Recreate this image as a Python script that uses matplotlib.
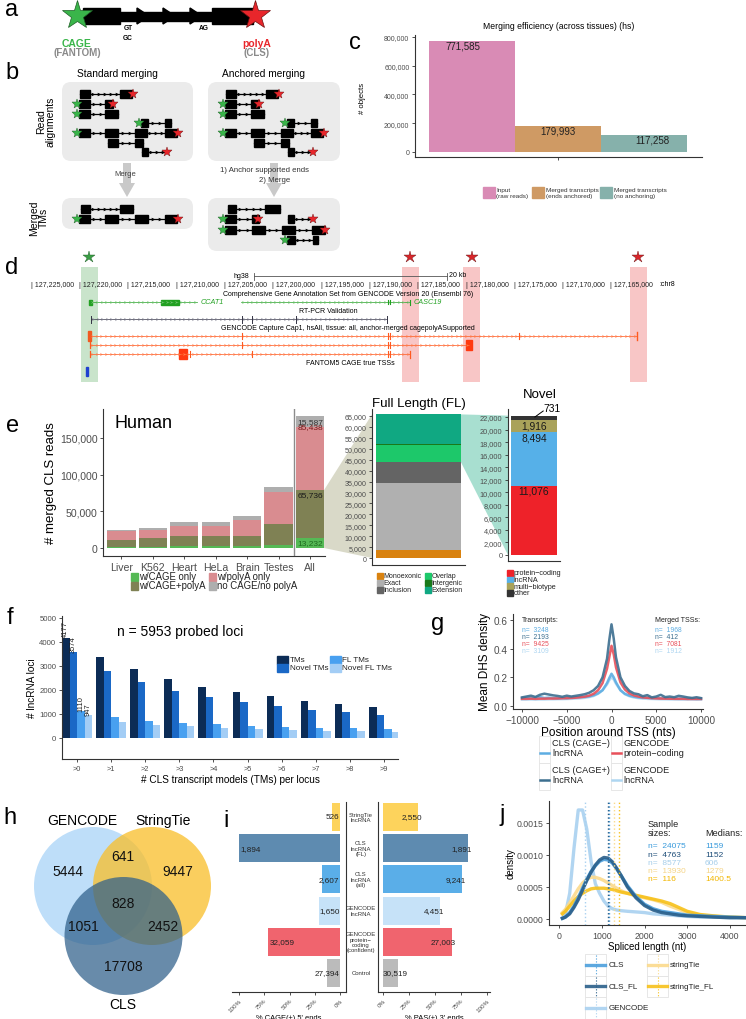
import numpy as np
import matplotlib
matplotlib.use('Agg')
import matplotlib.pyplot as plt
from matplotlib.patches import Rectangle, FancyBboxPatch, Circle, Polygon, FancyArrow
from matplotlib.ticker import FuncFormatter

plt.rcParams['font.family'] = ['Liberation Sans', 'DejaVu Sans']

# ===================== DATA =====================
# panel c
c_labels = ['Input\n(raw reads)', 'Merged transcripts\n(ends anchored)', 'Merged transcripts\n(no anchoring)']
c_values = [771585, 179993, 117258]
c_colors = ['#D98BB5', '#CF9A64', '#86B1AB']

# panel e (Human)
e_tissues = ['Liver', 'K562', 'Heart', 'HeLa', 'Brain', 'Testes', 'All']
e_series = ['w/CAGE only', 'w/CAGE+polyA', 'w/polyA only', 'no CAGE/no polyA']
e_cage_only = [1000, 1000, 2500, 2300, 3100, 4500, 13232]
e_cage_polya = [9900, 12600, 14300, 14500, 13700, 28200, 65736]
e_polya_only = [12700, 11400, 13600, 13600, 21300, 43200, 85438]
e_none = [900, 2200, 5500, 5500, 5100, 7600, 15587]
e_colors = ['#55B955', '#7F8154', '#D98C90', '#AEAEAE']

# panel e (Full length)
fl_cats = ['Monoexonic', 'Exact', 'Inclusion', 'Overlap', 'Intergenic', 'Extension']
fl_vals = [3600, 30700, 9500, 7900, 300, 13736]
fl_colors = ['#D9820F', '#B0B0B0', '#646464', '#1DC86A', '#1A7A1A', '#10A882']

# panel e (Novel)
nov_cats = ['protein\u2212coding', 'lncRNA', 'multi\u2212biotype', 'other']
nov_vals = [11076, 8494, 1916, 731]
nov_colors = ['#EE2229', '#56B0E8', '#A9A25A', '#333333']

# panel f
f_groups = ['>0', '>1', '>2', '>3', '>4', '>5', '>6', '>7', '>8', '>9']
f_series = ['TMs', 'Novel TMs', 'FL TMs', 'Novel FL TMs']
f_tms = [4177, 3390, 2860, 2460, 2110, 1900, 1735, 1555, 1415, 1290]
f_novel = [3574, 2790, 2320, 1960, 1695, 1485, 1320, 1180, 1070, 970]
f_fl = [1110, 875, 710, 625, 570, 515, 460, 420, 400, 375]
f_novel_fl = [947, 680, 555, 490, 420, 375, 335, 295, 280, 240]
f_colors = ['#0C2C56', '#1A68C6', '#48A0F0', '#A3CDF5']

# panel g
g_pos = [-10000, -9500, -9000, -8500, -8000, -7500, -7000, -6500, -6000, -5500, -5000,
         -4500, -4000, -3500, -3000, -2500, -2000, -1500, -1000, -500, -250, 0, 250, 500,
         1000, 1500, 2000, 2500, 3000, 3500, 4000, 4500, 5000, 5500, 6000, 6500, 7000,
         7500, 8000, 8500, 9000, 9500, 10000]
g_cage_minus = [0.055, 0.058, 0.054, 0.060, 0.062, 0.056, 0.058, 0.055, 0.052, 0.056, 0.054,
                0.058, 0.060, 0.062, 0.063, 0.067, 0.075, 0.088, 0.110, 0.160, 0.195, 0.225,
                0.200, 0.165, 0.110, 0.085, 0.072, 0.065, 0.060, 0.057, 0.058, 0.054, 0.056,
                0.053, 0.055, 0.052, 0.054, 0.051, 0.053, 0.050, 0.052, 0.050, 0.051]
g_cage_plus = [0.060, 0.066, 0.072, 0.063, 0.078, 0.086, 0.080, 0.074, 0.070, 0.064, 0.072,
               0.066, 0.071, 0.076, 0.082, 0.092, 0.110, 0.140, 0.200, 0.330, 0.460, 0.570,
               0.470, 0.340, 0.200, 0.140, 0.105, 0.088, 0.082, 0.068, 0.076, 0.060, 0.066,
               0.078, 0.062, 0.066, 0.061, 0.071, 0.066, 0.060, 0.056, 0.061, 0.055]
g_pc = [0.050, 0.050, 0.051, 0.050, 0.051, 0.051, 0.052, 0.052, 0.053, 0.054, 0.055,
        0.056, 0.058, 0.061, 0.065, 0.072, 0.085, 0.110, 0.160, 0.260, 0.340, 0.420,
        0.360, 0.270, 0.165, 0.115, 0.088, 0.074, 0.066, 0.060, 0.057, 0.055, 0.053,
        0.052, 0.051, 0.051, 0.050, 0.050, 0.050, 0.049, 0.049, 0.049, 0.049]
g_gen_lnc = [0.045, 0.045, 0.046, 0.045, 0.046, 0.046, 0.047, 0.047, 0.048, 0.048, 0.049,
             0.050, 0.052, 0.054, 0.057, 0.062, 0.070, 0.085, 0.110, 0.150, 0.180, 0.200,
             0.185, 0.155, 0.110, 0.082, 0.068, 0.060, 0.055, 0.052, 0.050, 0.049, 0.048,
             0.047, 0.047, 0.046, 0.046, 0.045, 0.045, 0.045, 0.045, 0.044, 0.044]
g_names = ['CLS (CAGE\u2212)\nlncRNA', 'CLS (CAGE+)\nlncRNA', 'GENCODE\nprotein\u2212coding', 'GENCODE\nlncRNA']
g_colors = ['#5DADE2', '#3C6E8F', '#E8505A', '#AED6F1']
g_n_tx = ['3248', '2193', '9425', '3109']
g_n_tss = ['1968', '412', '7081', '1912']

# panel h
h_sets = ['GENCODE', 'StringTie', 'CLS']
h_counts = {'G': 5444, 'S': 9447, 'C': 17708, 'GS': 641, 'GC': 1051, 'SC': 2452, 'GSC': 828}

# panel i
i_cats = ['StringTie\nlncRNA', 'CLS\nlncRNA\n(FL)', 'CLS\nlncRNA\n(all)', 'GENCODE\nlncRNA',
          'GENCODE\nprotein\u2212\ncoding\n(confident)', 'Control']
i_cage = [0.079, 1.0, 0.178, 0.207, 0.71, 0.128]
i_pas = [0.337, 0.817, 0.76, 0.55, 0.663, 0.144]
i_cage_n = ['526', '1,894', '2,607', '1,650', '32,059', '27,394']
i_pas_n = ['2,550', '1,891', '9,241', '4,451', '27,003', '30,519']
i_colors = ['#FDD35C', '#5E8BB0', '#5AAEE8', '#C6E2F8', '#F0646E', '#BBBBBB']

# panel j
j_x = [80, 150, 250, 350, 450, 550, 650, 750, 850, 950, 1050, 1150, 1250, 1350, 1450,
       1600, 1800, 2000, 2200, 2400, 2600, 2800, 3000, 3300, 3600, 4000, 4400]
j_cls = [0.00001, 0.00003, 0.0001, 0.0002, 0.00033, 0.00048, 0.00062, 0.00074, 0.00083,
         0.0009, 0.00093, 0.00092, 0.00087, 0.00078, 0.00068, 0.00052, 0.00035, 0.00023,
         0.00016, 0.00012, 0.0001, 0.00008, 0.00006, 0.00005, 0.00004, 0.00003, 0.00002]
j_cls_fl = [0.00001, 0.00003, 0.00008, 0.00018, 0.0003, 0.00045, 0.0006, 0.00073, 0.00084,
            0.00092, 0.00096, 0.00095, 0.00089, 0.00079, 0.00068, 0.0005, 0.00033, 0.00021,
            0.00014, 0.0001, 0.00008, 0.00006, 0.00005, 0.00004, 0.00003, 0.00002, 0.00002]
j_gencode = [0.00002, 0.00008, 0.0004, 0.0011, 0.0017, 0.0017, 0.0014, 0.0009, 0.00055,
             0.0004, 0.00028, 0.0002, 0.00016, 0.00014, 0.00013, 0.00012, 0.00011, 0.0001,
             0.00008, 0.00007, 0.00006, 0.00005, 0.00004, 0.00003, 0.00003, 0.00002, 0.00002]
j_st = [0.0001, 0.00015, 0.00025, 0.00036, 0.00047, 0.00056, 0.00062, 0.00065, 0.00065,
        0.00063, 0.0006, 0.00056, 0.00052, 0.00048, 0.00044, 0.0004, 0.00036, 0.00033,
        0.0003, 0.00026, 0.0002, 0.00015, 0.0001, 0.00006, 0.00004, 0.00003, 0.00002]
j_st_fl = [0.00008, 0.00012, 0.0002, 0.00028, 0.00035, 0.0004, 0.00044, 0.00047, 0.00048,
           0.00048, 0.00048, 0.00047, 0.00046, 0.00044, 0.00042, 0.0004, 0.00037, 0.00034,
           0.00031, 0.00028, 0.00024, 0.00018, 0.00012, 0.00007, 0.00005, 0.00003, 0.00002]
j_names = ['CLS', 'CLS_FL', 'GENCODE', 'stringTie', 'stringTie_FL']
j_colors = ['#4B9FDC', '#2A5F8A', '#A9D1F0', '#FBDA8C', '#F7C11A']
j_text_colors = ['#3A9BDC', '#1F4E79', '#A6CEEA', '#F5D58A', '#F2B600']
j_n = ['24075', '4763', '8577', '13930', '116']
j_medians = [1159, 1152, 606, 1279, 1400.5]

# panel d genomic ticks
d_ticks = [127225000, 127220000, 127215000, 127210000, 127205000, 127200000, 127195000,
           127190000, 127185000, 127180000, 127175000, 127170000, 127165000]

# ===================== FIGURE =====================
W, H = 746, 1020
fig = plt.figure(figsize=(W / 100, H / 100), dpi=100)
ov = fig.add_axes([0, 0, 1, 1], zorder=0)
ov.set_xlim(0, W); ov.set_ylim(H, 0); ov.axis('off')

GREEN = '#3AB54A'; RED = '#E8262B'
AX = '#333333'; TK = '#4D4D4D'


def pax(x0, y0, x1, y1):
    ax = fig.add_axes([x0 / W, 1 - y1 / H, (x1 - x0) / W, (y1 - y0) / H], zorder=2)
    ax.patch.set_alpha(0)
    return ax


def gg(ax, spines=('left', 'bottom'), fs=6):
    for s in ax.spines:
        ax.spines[s].set_visible(s in spines)
    for s in spines:
        ax.spines[s].set_color(AX); ax.spines[s].set_linewidth(0.8)
    ax.tick_params(colors=AX, labelcolor=TK, length=2.5, width=0.6, pad=1.5, labelsize=fs)


def to_ov(ax, x, y):
    d = ax.transData.transform((x, y))
    return ov.transData.inverted().transform(d)


comma = FuncFormatter(lambda v, p: f'{int(round(v)):,}')

# panel letters
for t, x, y in [('a', 12, 10), ('b', 12, 73), ('c', 355, 43), ('d', 12, 268), ('e', 13, 426),
                ('f', 10, 618), ('g', 438, 624), ('h', 10, 818), ('i', 226, 821), ('j', 502, 815)]:
    ov.text(x, y, t, fontsize=17, ha='center', va='center')

# ---------------- panel a ----------------
ov.add_patch(Rectangle((83, 9), 37, 16, color='k', zorder=2))
ov.add_patch(Rectangle((120, 13.3), 92, 8.4, color='k', zorder=2))
for xa in [137, 163, 190]:
    ov.add_patch(Polygon([[xa, 9], [xa + 12, 17], [xa, 25]], closed=True, color='k', zorder=2))
ov.add_patch(Rectangle((212, 9), 41, 16, color='k', zorder=2))
ov.plot(77, 16, marker='*', ms=22, color=GREEN, mec='#1d5e25', mew=0.5, zorder=3)
ov.plot(255, 16, marker='*', ms=22, color=RED, mec='#6b1010', mew=0.5, zorder=3)
ov.text(128, 29, 'GT', fontsize=4.8, fontweight='bold', ha='center', va='center')
ov.text(128, 39, 'GC', fontsize=4.8, fontweight='bold', ha='center', va='center')
ov.text(204, 29, 'AG', fontsize=4.8, fontweight='bold', ha='center', va='center')
ov.text(77, 44, 'CAGE', fontsize=7.5, fontweight='bold', color=GREEN, ha='center', va='center')
ov.text(77, 53, '(FANTOM)', fontsize=7, fontweight='bold', color='#8A8A8A', ha='center', va='center')
ov.text(257, 44, 'polyA', fontsize=7.5, fontweight='bold', color=RED, ha='center', va='center')
ov.text(257, 53, '(CLS)', fontsize=7, fontweight='bold', color='#8A8A8A', ha='center', va='center')

# ---------------- panel b ----------------
for (x0, y0, x1, y1) in [(62, 83, 193, 162), (208, 83, 340, 162), (62, 199, 193, 230), (208, 199, 340, 252)]:
    ov.add_patch(FancyBboxPatch((x0, y0), x1 - x0, y1 - y0, boxstyle='round,pad=0,rounding_size=9',
                                fc='#EBEBEB', ec='none', zorder=1))


def tm(y, exons, cage=None, pa=None, x_end=None, dx=0):
    starts = [a + dx for a, b in exons]
    ends = [b + dx for a, b in exons]
    last = max(ends + ([x_end + dx] if x_end else []))
    ov.plot([min(starts), last], [y, y], color='k', lw=0.9, zorder=3)
    for a, b in zip(starts, ends):
        ov.add_patch(Rectangle((a, y - 3.6), b - a, 7.2, color='k', zorder=4))
    gaps = list(zip(ends[:-1], starts[1:]))
    if x_end:
        gaps.append((ends[-1], x_end + dx))
    for g0, g1 in gaps:
        n = max(1, int((g1 - g0) / 6))
        for k in range(n):
            xm = g0 + (g1 - g0) * (k + 0.6) / (n + 0.2)
            ov.plot(xm, y, marker='>', ms=2.6, color='k', mew=0, zorder=4)
    if cage is not None:
        ov.plot(cage + dx, y, marker='*', ms=7, color=GREEN, mec='#1d5e25', mew=0.3, zorder=5)
    if pa is not None:
        ov.plot(pa + dx, y, marker='*', ms=7, color=RED, mec='#6b1010', mew=0.3, zorder=5)


reads = [(95, [(80, 90), (120, 132)], None, 133, None),
         (105, [(79, 90), (105, 113)], 77, 113, None),
         (115, [(79, 90), (105, 118)], 77, None, None),
         (124, [(141, 148), (165, 171)], 139, None, None),
         (134, [(79, 90), (105, 118), (135, 147), (165, 177)], 77, 178, None),
         (144, [(108, 118), (135, 143)], None, None, None),
         (153, [(142, 148)], None, 167, 166)]
for r in reads:
    tm(*r)
    tm(*r, dx=146)
tm(210, [(81, 90), (120, 133)])
tm(220, [(79, 90), (105, 118), (135, 148), (165, 177)], 77, 178)
tm(210, [(228, 236), (265, 280)])
tm(220, [(225, 236), (252, 259)], 223, 258)
tm(220, [(288, 294)], None, 313, 312)
tm(231, [(225, 236), (252, 265), (282, 295), (312, 325)], 223, 325)
tm(241, [(287, 295), (313, 318)], 285, None)

ov.text(117, 74, 'Standard merging', fontsize=7.3, ha='center', va='center')
ov.text(264, 74, 'Anchored merging', fontsize=7.3, ha='center', va='center')
ov.text(46, 122, 'Read\nalignments', fontsize=7.5, rotation=90, ha='center', va='center', linespacing=1.0)
ov.text(39, 218, 'Merged\nTMs', fontsize=7.5, rotation=90, ha='center', va='center', linespacing=1.0)
for xa in [127, 274]:
    ov.add_patch(FancyArrow(xa, 164, 0, 34, width=8, head_width=16, head_length=14,
                            length_includes_head=True, fc='#C9C9C9', ec='none', zorder=1))
ov.text(125, 175, 'Merge', fontsize=5.5, color='#444444', ha='center', va='center', zorder=3)
ov.text(265, 171, '1) Anchor supported ends', fontsize=5.6, color='#333333', ha='center', va='center', zorder=3)
ov.text(275, 180.5, '2) Merge', fontsize=5.6, color='#333333', ha='center', va='center', zorder=3)

# ---------------- panel c ----------------
axc = pax(415, 36, 702, 158)
xc = np.arange(len(c_values))
axc.bar(xc, c_values, width=1.0, color=c_colors)
axc.set_xlim(-0.663, 2.674); axc.set_ylim(-34783, 813913)
gg(axc, fs=5)
axc.set_yticks([0, 200000, 400000, 600000, 800000])
axc.yaxis.set_major_formatter(comma)
axc.set_xticks([1]); axc.set_xticklabels([''])
for k, v in enumerate(c_values):
    axc.text(k + (-0.1 + 0.1 * k), v - 30000, f'{v:,}', fontsize=7, ha='center', va='center', color='#222222')
axc.set_title('Merging efficiency (across tissues) (hs)', fontsize=6.2, pad=5)
ov.text(362, 98, '# objects', rotation=90, fontsize=5.6, ha='center', va='center')
for k, (px, lab) in enumerate(zip([483, 532, 600], c_labels)):
    ov.add_patch(Rectangle((px, 188), 12, 11, color=c_colors[k]))
    ov.text(px + 13.5, 193.5, lab, fontsize=4.6, ha='left', va='center', color='#333333', linespacing=1.05)

# ---------------- panel d ----------------
axd = fig.add_axes([20 / W, 1 - 385 / H, 680 / W, 135 / H], zorder=2)
axd.patch.set_alpha(0); axd.axis('off')
axd.set_xlim(127226242, 127155847); axd.set_ylim(385, 250)
axd.add_patch(Rectangle((127218170, 268), 1760, 115, color='#C9E4CB', lw=0, zorder=0))
for c in [127185818, 127179451, 127162215]:
    axd.add_patch(Rectangle((c - 880, 268), 1760, 115, color='#F8C6C6', lw=0, zorder=0))
axd.plot(127219050, 258, marker='*', ms=9, color='#3A9E45', mec='#1d5e25', mew=0.3, clip_on=False)
for c in [127185818, 127179451, 127162215]:
    axd.plot(c, 258, marker='*', ms=9, color='#D9262B', mec='#6b1010', mew=0.3, clip_on=False)
axd.plot([127202019, 127182019], [277, 277], color='#555555', lw=0.6)
for xx in [127202019, 127182019]:
    axd.plot([xx, xx], [273.5, 280.5], color='#555555', lw=0.6)
axd.text(127202019 + 500, 277, 'hg38', fontsize=5, ha='right', va='center')
axd.text(127182019 - 150, 276, '20 kb', fontsize=5, ha='left', va='center')
for p in d_ticks:
    axd.text(p + 120, 286, '| ' + f'{p:,}', fontsize=5, ha='left', va='center', color='#222222')
axd.text(127160093, 285, ':chr8', fontsize=5, ha='left', va='center')


def chev(y, a, b, color, lc, lw=0.5):
    axd.plot([a, b], [y, y], color=lc, lw=lw, zorder=2)
    n = int(abs(a - b) / 470)
    xs = [a - (a - b) * (k + 0.5) / n for k in range(n)]
    axd.plot(xs, [y] * n, ls='none', marker='4', ms=2.6, mew=0.45, color=color, zorder=2)


def vt(x, y, h, color, lw=0.8):
    axd.plot([x, x], [y - h, y + h], color=color, lw=lw, zorder=3)


axd.text(127192288, 295, 'Comprehensive Gene Annotation Set from GENCODE Version 20 (Ensembl 76)',
         fontsize=5, ha='center', va='center')
GC = '#22A022'
chev(303, 127218996, 127207919, '#6CC06C', GC)
axd.add_patch(Rectangle((127218800, 300.5), 250, 5, color=GC))
axd.add_patch(Rectangle((127209783, 300.5), 1864, 5, color=GC))
axd.text(127207500, 303, 'CCAT1', fontsize=5.2, style='italic', color=GC, ha='left', va='center')
chev(303, 127203364, 127185870, '#6CC06C', GC)
vt(127188147, 303, 2, GC); vt(127187940, 303, 2, GC); vt(127185870, 303, 2.5, GC)
axd.text(127185500, 303, 'CASC19', fontsize=5.2, style='italic', color=GC, ha='left', va='center')

axd.text(127194358, 312, 'RT-PCR Validation', fontsize=5, ha='center', va='center')
RC = '#333344'
chev(320, 127218892, 127188250, '#777788', RC)
for xx in [127218892, 127203261, 127202226, 127197671, 127188250]:
    vt(xx, 320, 3.5, RC, 0.7)

axd.text(127192288, 329, 'GENCODE Capture Cap1, hsAll, tissue: all, anchor-merged cagepolyASupported',
         fontsize=5, ha='center', va='center')
OC = '#FF5A1F'
chev(337, 127218996, 127162370, '#FF7A4A', OC)
axd.add_patch(Rectangle((127218900, 332), 300, 10, color='#F05A20'))
for xx in [127203261, 127188147, 127187940, 127174586]:
    vt(xx, 337, 3, OC, 0.8)
vt(127162370, 337, 4, OC, 1.0)
chev(346, 127218996, 127179762, '#FF7A4A', OC)
vt(127218996, 346, 3, OC, 0.9)
for xx in [127203261, 127188147, 127187940]:
    vt(xx, 346, 3, OC, 0.8)
axd.add_patch(Rectangle((127179452, 341), 621, 10, color='#FF3A10'))
chev(355, 127218996, 127185870, '#FF7A4A', OC)
vt(127218996, 355, 3, OC, 0.9)
axd.add_patch(Rectangle((127208955, 350), 828, 10, color='#FF3A10'))
for xx in [127208644, 127202226, 127188147, 127187940]:
    vt(xx, 355, 3, OC, 0.8)
vt(127185870, 355, 3.5, OC, 0.9)
axd.text(127192081, 364, 'FANTOM5 CAGE true TSSs', fontsize=5, ha='center', va='center')
axd.add_patch(Rectangle((127219200, 368), 260, 9, color='#2040D0'))

# ---------------- panel e : Human ----------------
axe = pax(103, 410, 325, 557)
xe = np.arange(len(e_tissues))
stack = [e_cage_only, e_cage_polya, e_polya_only, e_none]
bottom = np.zeros(len(e_tissues))
tops = []
for vals, col in zip(stack, e_colors):
    axe.bar(xe, vals, width=0.9, bottom=bottom, color=col)
    bottom = bottom + np.array(vals)
    tops.append(bottom.copy())
axe.set_xlim(-0.589, 6.48); axe.set_ylim(-10899, 189373)
gg(axe, fs=7.6)
axe.set_xticks(xe); axe.set_xticklabels(e_tissues)
axe.set_yticks([0, 50000, 100000, 150000]); axe.yaxis.set_major_formatter(comma)
axe.axvline(5.5, color='#8C8C8C', lw=1.0)
axe.set_ylabel('# merged CLS reads', fontsize=9.5, labelpad=2)
axe.text(0.05, 0.91, 'Human', transform=axe.transAxes, fontsize=13, ha='left', va='center')
lab_cols = ['#1E6B1E', '#1A1A1A', '#7A1A1A', '#333333']
offs = [6000, 6000, -800, 7200]
for k in range(4):
    v = stack[k][-1]
    axe.text(6.02, tops[k][-1] - offs[k], f'{v:,}', fontsize=6.0, ha='center', va='center', color=lab_cols[k])
for k, (px, py) in enumerate([(131, 577.5), (131, 586.5), (209, 577.5), (209, 586.5)]):
    ov.add_patch(Rectangle((px, py - 4), 7, 8, color=e_colors[k]))
    ov.text(px + 8, py, e_series[k], fontsize=6.9, ha='left', va='center', color='#222222')

# ---------------- panel e : Full length ----------------
axf = pax(372, 410, 465, 566)
bot = 0
fl_tops = []
for v, col in zip(fl_vals, fl_colors):
    axf.bar([0], [v], width=1.0, bottom=bot, color=col)
    bot += v
    fl_tops.append(bot)
axf.set_xlim(-0.547, 0.547); axf.set_ylim(-3204, 68204)
gg(axf, fs=5.1)
axf.set_xticks([])
axf.set_yticks(list(range(0, 65001, 5000))); axf.yaxis.set_major_formatter(comma)
axf.set_title('Full Length (FL)', fontsize=9.5, pad=1)
for k, lab in enumerate(fl_cats):
    px = 377 if k < 3 else 425
    py = [577, 584, 591][k % 3]
    ov.add_patch(Rectangle((px, py - 3.2), 6, 6.4, color=fl_colors[k]))
    ov.text(px + 6.5, py, lab, fontsize=5, ha='left', va='center', color='#222222')

# ---------------- panel e : Novel ----------------
axn = pax(508, 410, 560, 562)
bot = 0
nov_tops = []
for v, col in zip(nov_vals, nov_colors):
    axn.bar([0], [v], width=1.0, bottom=bot, color=col)
    bot += v
    nov_tops.append(bot)
axn.set_xlim(-0.565, 0.565); axn.set_ylim(-957, 23275)
gg(axn, fs=5.3)
axn.set_xticks([])
axn.set_yticks(list(range(0, 22001, 2000))); axn.yaxis.set_major_formatter(comma)
axn.set_title('Novel', fontsize=9.5, pad=9, x=0.62)
for k in range(3):
    axn.text(0, nov_tops[k] - 800, f'{nov_vals[k]:,}', fontsize=7.4, ha='center', va='center', color='#1A1A1A')
axn.plot([0.02, 0.2], [22000, 22957], color='k', lw=0.7, clip_on=False)
axn.text(0.39, 23435, f'{nov_vals[3]:,}', fontsize=7.4, ha='center', va='center', clip_on=False)
for k, lab in enumerate(nov_cats):
    py = [574, 581, 587.5, 594][k]
    ov.add_patch(Rectangle((507, py - 3.2), 6, 6.4, color=nov_colors[k]))
    ov.text(513.5, py, lab, fontsize=5.2, ha='left', va='center', color='#222222')

# zoom polygons
p1 = to_ov(axe, 6.45, tops[1][-1]); p2 = to_ov(axe, 6.45, 0)
p3 = to_ov(axf, -0.547, sum(fl_vals)); p4 = to_ov(axf, -0.547, 0)
ov.add_patch(Polygon([p1, p3, p4, p2], closed=True, fc='#D9D9C8', ec='none', zorder=0))
q1 = to_ov(axf, 0.5, fl_tops[-1]); q2 = to_ov(axf, 0.5, fl_tops[2])
q3 = to_ov(axn, -0.565, sum(nov_vals)); q4 = to_ov(axn, -0.565, 0)
ov.add_patch(Polygon([q1, q3, q4, q2], closed=True, fc='#A8DFD0', ec='none', zorder=0))

# ---------------- panel f ----------------
axF = pax(62, 617, 398, 760)
xf = np.arange(len(f_groups))
bw = 0.22
for k, (vals, col) in enumerate(zip([f_tms, f_novel, f_fl, f_novel_fl], f_colors)):
    axF.bar(xf + (k - 1.5) * bw, vals, width=bw, color=col)
    axF.text(0 + (k - 1.5) * bw, vals[0] + 20, str(vals[0]), rotation=90, fontsize=5.4,
             ha='center', va='bottom', color='#222222')
axF.set_xlim(-0.44, 9.41); axF.set_ylim(-875, 5083)
gg(axF, fs=5.6)
axF.set_xticks(xf); axF.set_xticklabels(f_groups, fontsize=5.3)
axF.set_yticks([0, 1000, 2000, 3000, 4000, 5000])
axF.set_ylabel('# lncRNA loci', fontsize=7.2, labelpad=2)
axF.set_xlabel('# CLS transcript models (TMs) per locus', fontsize=7.2, labelpad=2)
ov.text(180, 632, 'n = 5953 probed loci', fontsize=10, ha='center', va='center')
for k, (px, py) in enumerate([(277, 661), (277, 669), (330, 661), (330, 669)]):
    ov.add_patch(Rectangle((px, py - 4), 11, 8, color=f_colors[k]))
    ov.text(px + 12.5, py, f_series[k], fontsize=5.9, ha='left', va='center', color='#222222')

# ---------------- panel g ----------------
axg = pax(513, 615, 703, 710)
order = [3, 0, 2, 1]
gser = [g_cage_minus, g_cage_plus, g_pc, g_gen_lnc]
for k in order:
    axg.plot(g_pos, gser[k], color=g_colors[k], lw=1.8, alpha=0.9, solid_joinstyle='round')
axg.set_xlim(-11006, 10223); axg.set_ylim(-0.021, 0.642)
gg(axg, fs=7.2)
axg.set_xticks([-10000, -5000, 0, 5000, 10000]); axg.set_yticks([0.0, 0.2, 0.4, 0.6])
axg.yaxis.set_major_formatter(FuncFormatter(lambda v, p: f'{v:.1f}'))
axg.set_xlabel('Position around TSS (nts)', fontsize=8.5, labelpad=1)
axg.set_ylabel('Mean DHS density', fontsize=8.5, labelpad=2)
ov.text(522, 621, 'Transcripts:', fontsize=5.0, ha='left', va='center', color='#222222')
ov.text(655, 621, 'Merged TSSs:', fontsize=5.0, ha='left', va='center', color='#222222')
for k in range(4):
    yy = 631 + k * 6.9
    ov.text(522, yy, 'n=  ' + g_n_tx[k], fontsize=4.9, ha='left', va='center', color=g_colors[k])
    ov.text(655, yy, 'n=  ' + g_n_tss[k], fontsize=4.9, ha='left', va='center', color=g_colors[k])
leg_g = [(539, 552, 0), (539, 552, 1), (611, 623, 2), (611, 623, 3)]
for r, (bx, tx, k) in enumerate(leg_g):
    row = r % 2
    y0 = 737 + row * 27
    ov.add_patch(Rectangle((bx, y0), 11, 27, fc='white', ec='#E3E3E3', lw=0.6))
    ov.plot([bx + 1, bx + 10], [y0 + 17, y0 + 17], color=g_colors[k], lw=1.8)
    ov.text(tx, y0 + 11.5, g_names[k], fontsize=6.6, ha='left', va='center', linespacing=1.1, color='#222222')

# ---------------- panel h ----------------
ov.add_patch(Circle((93, 887), 59, fc='#A8D3F7', ec='none', alpha=0.75))
ov.add_patch(Circle((152, 887), 59, fc='#F9BE28', ec='none', alpha=0.75))
ov.add_patch(Circle((123.5, 937), 59, fc='#2E5F8A', ec='none', alpha=0.72))
ov.text(82, 821, h_sets[0], fontsize=10, ha='center', va='center')
ov.text(163, 821, h_sets[1], fontsize=10, ha='center', va='center')
ov.text(123, 1005, h_sets[2], fontsize=10, ha='center', va='center')
for key, (x, y) in {'G': (68, 872), 'GS': (123, 857), 'S': (178, 872), 'GSC': (123, 904),
                    'GC': (83, 927), 'SC': (163, 927), 'C': (123, 967)}.items():
    ov.text(x, y, str(h_counts[key]), fontsize=10, ha='center', va='center', color='#111111')

# ---------------- panel i ----------------
yi = np.arange(len(i_cats))
axL = pax(232, 803, 346, 993)
axL.barh(yi, i_cage, height=0.9, color=i_colors)
axL.set_xlim(1.069, -0.059); axL.set_ylim(5.61, -0.48)
gg(axL, spines=('right', 'bottom'), fs=4.5)
axL.set_yticks([])
axR = pax(378, 803, 490, 993)
axR.barh(yi, i_pas, height=0.9, color=i_colors)
axR.set_xlim(-0.048, 1.029); axR.set_ylim(5.61, -0.48)
gg(axR, spines=('left', 'bottom'), fs=4.5)
axR.set_yticks([])
for ax in (axL, axR):
    ax.set_xticks([0, 0.25, 0.5, 0.75, 1.0])
    ax.set_xticklabels(['0%', '25%', '50%', '75%', '100%'], rotation=45, ha='right', rotation_mode='anchor')
axL.set_xlabel("% CAGE(+) 5' ends", fontsize=5.4, labelpad=1)
axR.set_xlabel("% PAS(+) 3' ends", fontsize=5.4, labelpad=1)
for k in range(len(i_cats)):
    if i_cage[k] > 0.3:
        axL.text(i_cage[k] - 0.01, k, i_cage_n[k], fontsize=5.9, ha='left', va='center', color='#222222')
    else:
        axL.text(0.005, k, i_cage_n[k], fontsize=5.9, ha='right', va='center', color='#222222')
    if i_pas[k] > 0.3:
        axR.text(i_pas[k] + 0.04, k, i_pas_n[k], fontsize=5.9, ha='right', va='center', color='#222222')
    else:
        axR.text(0.0, k, i_pas_n[k], fontsize=5.9, ha='left', va='center', color='#222222')
    cy = to_ov(axL, 0, k)[1]
    ov.text(361, cy, i_cats[k], fontsize=4.3, ha='center', va='center', linespacing=1.1, color='#333333')

# ---------------- panel j ----------------
axj = pax(549, 802, 746, 926)
jser = [j_cls, j_cls_fl, j_gencode, j_st, j_st_fl]
for k in [2, 3, 4, 0, 1]:
    axj.plot(j_x, jser[k], color=j_colors[k], lw=2.4, alpha=0.9, solid_joinstyle='round')
for k in range(5):
    axj.axvline(j_medians[k], color=j_colors[k], ls=':', lw=1.0)
axj.set_xlim(-234, 4374); axj.set_ylim(-0.0000938, 0.00184)
gg(axj, fs=6.3)
axj.set_xticks([0, 1000, 2000, 3000, 4000]); axj.set_yticks([0, 0.0005, 0.001, 0.0015])
axj.yaxis.set_major_formatter(FuncFormatter(lambda v, p: f'{v:.4f}'))
axj.set_xlabel('Spliced length (nt)', fontsize=7, labelpad=1)
axj.set_ylabel('density', fontsize=7, labelpad=1)
ov.text(648, 829, 'Sample\nsizes:', fontsize=6.6, ha='left', va='center', linespacing=1.0, color='#222222')
ov.text(705, 834, 'Medians:', fontsize=6.6, ha='left', va='center', color='#222222')
for k in range(5):
    yy = 847 + k * 8.1
    ov.text(648, yy, 'n=  ' + j_n[k], fontsize=6.0, ha='left', va='center', color=j_text_colors[k])
    med = f'{j_medians[k]:g}'
    ov.text(705, yy, med, fontsize=6.0, ha='left', va='center', color=j_text_colors[k])
leg_j = [(585, 609, 0, 0), (585, 609, 1, 1), (585, 609, 2, 2), (647, 670, 0, 3), (647, 670, 1, 4)]
for bx, tx, row, k in leg_j:
    y0 = 955 + row * 21.5
    ov.add_patch(Rectangle((bx, y0), 21, 21.5, fc='white', ec='#E3E3E3', lw=0.6))
    ov.plot([bx + 10.5, bx + 10.5], [y0 + 1, y0 + 20.5], color=j_colors[k], ls=':', lw=0.8)
    ov.plot([bx + 1, bx + 20], [y0 + 10.7, y0 + 10.7], color=j_colors[k], lw=2.4, alpha=0.9)
    ov.text(tx, y0 + 10.7, j_names[k], fontsize=5.8, ha='left', va='center', color='#222222')

fig.savefig('out.png', dpi=100)
